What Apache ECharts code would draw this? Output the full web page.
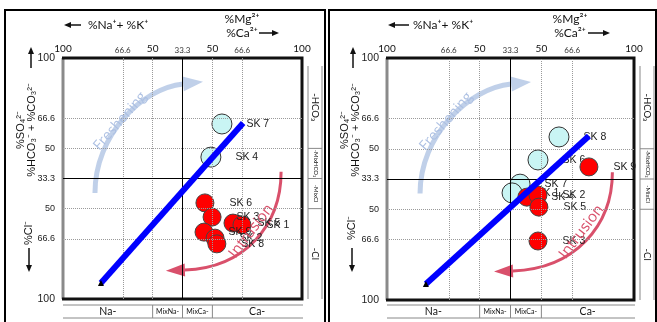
<!DOCTYPE html>
<html>
<head>
<meta charset="utf-8">
<script src="https://cdn.jsdelivr.net/npm/echarts@6/dist/echarts.min.js"></script>
<style>
html, body { margin: 0; padding: 0; background: #fff; }
#chart { width: 657px; height: 322px; }
</style>
</head>
<body>
<div id="chart"></div>
<script>
// Both axes run 0..8 in diagram units: 100 / 66.6 / 50 / 33.3 / 50 / 66.6 / 100
const tickLabels = { 0: '100', 2: '66.6', 3: '50', 4: '33.3', 5: '50', 6: '66.6', 8: '100' };
const dottedLines = [2, 3, 5, 6];
const centerLine = 4;
const cationFacies = ['Na-', 'MixNa-', 'MixCa-', 'Ca-'];
const anionFacies = ['-HCO₃', '-MixHCO₃', '-MixCl', '-Cl'];
const faciesEdges = [0, 3, 4, 5, 8];

// left diagram
const leftFresh = [['SK 7', 5.32, 5.81], ['SK 4', 4.95, 4.71]];
const leftSalt = [
    ['SK 6', 4.75, 3.19], ['SK 3', 4.99, 2.72], ['SK 5', 5.69, 2.52], ['SK 1', 5.99, 2.46],
    ['SK 9', 4.72, 2.22], ['SK 2', 5.09, 2.02], ['SK 8', 5.15, 1.83]
];
const leftTrend = [[1.27, 0.53], [6.03, 5.84]];

// right diagram
const rightFresh = [['SK 8', 5.57, 5.39], ['SK 6', 4.89, 4.63], ['SK 7', 4.31, 3.83], ['SK 1', 4.05, 3.54]];
const rightSalt = [
    ['SK 9', 6.54, 4.40], ['SK 4', 4.53, 3.40], ['SK 2', 4.89, 3.47], ['SK 5', 4.92, 3.07], ['SK 3', 4.89, 1.95]
];
const rightTrend = [[1.26, 0.53], [6.54, 5.42]];

// curved process arrows (bezier control points, diagram units)
const freshArc = [[1.07, 3.52], [1.07, 5.44], [2.64, 7.0], [4.02, 7.14]];
const intrusionArc = [[7.30, 4.22], [7.30, 2.46], [6.09, 1.03], [4.08, 0.96]];
const freshText = [1.91, 5.9];
const intrusionText = [6.3, 2.25];

const grids = [
    { left: 63, top: 58, width: 239, height: 241 },
    { left: 387, top: 58, width: 247, height: 242 }
];

const chart = echarts.init(document.getElementById('chart'));

const axisRich = {
    n: { fontSize: 10, fontFamily: 'Lato', color: '#111' },
    s: { fontSize: 8, fontFamily: 'Lato', color: '#333' }
};
const fmtX = v => {
    const t = tickLabels[v];
    if (!t) return '';
    return t.includes('.') ? `{s|${t}}` : `{n|${t}}`;
};
const fmtY = v => {
    const t = tickLabels[v];
    if (!t) return '';
    return t === '100' ? `{b|${t}}` : t;
};

const makeAxes = gi => ({
    x: {
        type: 'value', gridIndex: gi, position: 'top', min: 0, max: 8, interval: 1,
        axisLine: { show: false }, axisTick: { show: false }, splitLine: { show: false },
        axisLabel: { margin: 4, formatter: fmtX, rich: axisRich }
    },
    y: {
        type: 'value', gridIndex: gi, min: 0, max: 8, interval: 1,
        axisLine: { show: false }, axisTick: { show: false }, splitLine: { show: false },
        axisLabel: {
            margin: 8, formatter: fmtY, fontSize: 9, fontFamily: 'Liberation Sans', color: '#222',
            rich: { b: { fontSize: 10.5, fontFamily: 'Liberation Sans', color: '#222' } }
        }
    }
});

const gridLines = () => {
    const dotted = { type: 'dotted', color: '#9a9a9a', width: 1 };
    const solid = { type: 'solid', color: '#000', width: 1 };
    const data = [];
    dottedLines.forEach(v => {
        data.push({ xAxis: v, lineStyle: dotted });
        data.push({ yAxis: v, lineStyle: dotted });
    });
    data.push({ xAxis: centerLine, lineStyle: solid });
    data.push({ yAxis: centerLine, lineStyle: solid });
    return data;
};

const toItems = arr => arr.map(d => ({ name: d[0], value: [d[1], d[2]] }));

const panelSeries = (gi, fresh, salt, trend) => [
    {
        type: 'line', xAxisIndex: gi, yAxisIndex: gi, data: [], z: 1,
        markLine: { silent: true, symbol: ['none', 'none'], label: { show: false }, animation: false, data: gridLines() }
    },
    {
        type: 'scatter', xAxisIndex: gi, yAxisIndex: gi, z: 3, symbolSize: 20,
        data: toItems(fresh),
        itemStyle: { color: '#c9f5f4', borderColor: '#333', borderWidth: 1, opacity: 1 },
        label: { show: true, position: 'right', distance: 14, formatter: '{b}', fontSize: 10.5, fontFamily: 'Liberation Sans', color: '#222' }
    },
    {
        type: 'scatter', xAxisIndex: gi, yAxisIndex: gi, z: 4, symbolSize: 18,
        data: toItems(salt),
        itemStyle: { color: '#ff0000', borderColor: '#444', borderWidth: 1, opacity: 1 },
        label: { show: true, position: 'right', distance: 15, formatter: '{b}', fontSize: 10.5, fontFamily: 'Liberation Sans', color: '#222' }
    },
    {
        type: 'line', xAxisIndex: gi, yAxisIndex: gi, z: 5,
        data: [
            { value: trend[0], symbol: 'triangle', symbolSize: 6, itemStyle: { color: '#000' } },
            { value: trend[1], symbol: 'none' }
        ],
        lineStyle: { color: '#0000ff', width: 6, cap: 'butt' }
    }
];

const axesL = makeAxes(0);
const axesR = makeAxes(1);

chart.setOption({
    animation: false,
    backgroundColor: '#fff',
    grid: grids,
    xAxis: [axesL.x, axesR.x],
    yAxis: [axesL.y, axesR.y],
    series: [
        ...panelSeries(0, leftFresh, leftSalt, leftTrend),
        ...panelSeries(1, rightFresh, rightSalt, rightTrend)
    ]
});

// decorations (frames, titles, facies strips, process arrows)
const panelLayout = [
    { gi: 0, frame: [5, 320], naArrow: [81, 64], naText: 88, mg: 242, caArrow: [259, 279], upX: 31, titleX: 26, clX: 29, clY: 233, stripX: [308, 322] },
    { gi: 1, frame: [329, 327], naArrow: [409, 388], naText: 413, mg: 570, caArrow: [588, 610], upX: 353, titleX: 350, clX: 352, clY: 228, stripX: [640, 654] }
];

const px = (gi, p) => chart.convertToPixel({ gridIndex: gi }, p);

const arrow = (x1, y1, x2, y2, color, width, headLen, headW) => {
    const dx = x2 - x1, dy = y2 - y1, L = Math.hypot(dx, dy);
    const ux = dx / L, uy = dy / L;
    const bx = x2 - ux * headLen, by = y2 - uy * headLen;
    return [
        { type: 'line', shape: { x1, y1, x2: bx, y2: by }, style: { stroke: color, lineWidth: width } },
        { type: 'polygon', shape: { points: [[x2, y2], [bx - uy * headW / 2, by + ux * headW / 2], [bx + uy * headW / 2, by - ux * headW / 2]] }, style: { fill: color } }
    ];
};

const curvedArrow = (gi, pts, color, width, headLen, headW) => {
    const p = pts.map(d => px(gi, d));
    const dx = p[3][0] - p[2][0], dy = p[3][1] - p[2][1], L = Math.hypot(dx, dy);
    const ux = dx / L, uy = dy / L;
    const tip = [p[3][0] + ux * headLen, p[3][1] + uy * headLen];
    return [
        {
            type: 'bezierCurve',
            shape: { x1: p[0][0], y1: p[0][1], cpx1: p[1][0], cpy1: p[1][1], cpx2: p[2][0], cpy2: p[2][1], x2: p[3][0], y2: p[3][1] },
            style: { stroke: color, lineWidth: width, fill: null }
        },
        {
            type: 'polygon',
            shape: { points: [tip, [p[3][0] - uy * headW / 2, p[3][1] + ux * headW / 2], [p[3][0] + uy * headW / 2, p[3][1] - ux * headW / 2]] },
            style: { fill: color }
        }
    ];
};

const txt = (x, y, text, size, opts = {}) => ({
    type: 'text', x, y, rotation: opts.rotation || 0, z: 10,
    style: {
        text, fontSize: size, fontFamily: opts.font || 'Lato', fill: opts.color || '#111',
        textAlign: opts.align || 'center', textVerticalAlign: 'middle'
    }
});

const graphics = [];
panelLayout.forEach(L => {
    const g = grids[L.gi];
    const gl = g.left, gt = g.top, gr = g.left + g.width, gb = g.top + g.height;

    // outer panel frame
    graphics.push({ type: 'rect', shape: { x: L.frame[0], y: 10, width: L.frame[1], height: 330 }, style: { fill: null, stroke: '#000', lineWidth: 2 } });

    // plot border
    graphics.push({ type: 'line', shape: { x1: gl, y1: gt, x2: gl, y2: gb }, style: { stroke: '#8a8a8a', lineWidth: 3 } });
    graphics.push({ type: 'polyline', shape: { points: [[gl - 1, gt], [gr, gt], [gr, gb], [gl - 1, gb]] }, style: { stroke: '#111', lineWidth: 3, fill: null } });

    // cation header
    graphics.push(...arrow(L.naArrow[0], 25, L.naArrow[1], 25, '#111', 1.5, 7, 6));
    graphics.push(txt(L.naText, 25, '%Na⁺+ %K⁺', 12, { align: 'left' }));
    graphics.push(txt(L.mg, 19, '%Mg²⁺', 12));
    graphics.push(txt(L.mg, 33, '%Ca²⁺', 12));
    graphics.push(...arrow(L.caArrow[0], 33, L.caArrow[1], 33, '#111', 1.5, 7, 6));

    // anion axis titles
    graphics.push(...arrow(L.upX, 68, L.upX, 47, '#111', 1.5, 7, 6));
    graphics.push(txt(L.titleX, 130, '%SO₄²⁻\n%HCO₃⁻ + %CO₃²⁻', 11, { rotation: Math.PI / 2, font: 'Liberation Sans' }));
    graphics.push(txt(L.clX, L.clY, '%Cl⁻', 11, { rotation: Math.PI / 2, font: 'Liberation Sans' }));
    graphics.push(...arrow(L.clX, 248, L.clX, 272, '#111', 1.5, 7, 6));

    // cation facies strip (bottom)
    const ex = faciesEdges.map(v => px(L.gi, [v, 0])[0]);
    graphics.push({ type: 'line', shape: { x1: gl, y1: 305, x2: gr + 1, y2: 305 }, style: { stroke: '#888', lineWidth: 1 } });
    graphics.push({ type: 'line', shape: { x1: gl, y1: 318, x2: gr + 1, y2: 318 }, style: { stroke: '#888', lineWidth: 1 } });
    ex.slice(1, -1).forEach(x => graphics.push({ type: 'line', shape: { x1: x, y1: 305, x2: x, y2: 318 }, style: { stroke: '#888', lineWidth: 1 } }));
    cationFacies.forEach((t, i) => {
        const small = t.startsWith('Mix');
        graphics.push(txt((ex[i] + ex[i + 1]) / 2, 312, t, small ? 7 : 10.5));
    });

    // anion facies strip (right)
    const ey = faciesEdges.map(v => px(L.gi, [0, v])[1]).reverse();
    const [sx1, sx2] = L.stripX;
    graphics.push({ type: 'line', shape: { x1: sx1, y1: gt + 8, x2: sx1, y2: gb }, style: { stroke: '#888', lineWidth: 1 } });
    graphics.push({ type: 'line', shape: { x1: sx2, y1: gt + 8, x2: sx2, y2: gb }, style: { stroke: '#888', lineWidth: 1 } });
    ey.slice(1, -1).forEach(y => graphics.push({ type: 'line', shape: { x1: sx1, y1: y, x2: sx2, y2: y }, style: { stroke: '#888', lineWidth: 1 } }));
    anionFacies.forEach((t, i) => {
        const small = t.startsWith('-Mix');
        const y0 = i === 0 ? gt + 8 : ey[i];
        graphics.push(txt((sx1 + sx2) / 2 + 0.5, (y0 + ey[i + 1]) / 2, t, small ? 6 : 9.5, { rotation: -Math.PI / 2 }));
    });

    // process arrows
    graphics.push(...curvedArrow(L.gi, freshArc, 'rgba(176,196,228,0.8)', 5, 20, 15));
    const fp = px(L.gi, freshText);
    graphics.push(txt(fp[0], fp[1], 'Freshening', 14, { rotation: 0.85, color: 'rgba(170,190,225,0.95)', font: 'Open Sans' }));
    graphics.push(...curvedArrow(L.gi, intrusionArc, '#d9506b', 3, 19, 13));
    const ip = px(L.gi, intrusionText);
    graphics.push(txt(ip[0], ip[1], 'Intrusion', 15, { rotation: 0.92, color: '#d9506b', font: 'Open Sans' }));
});

chart.setOption({ graphic: graphics });
</script>
</body>
</html>
